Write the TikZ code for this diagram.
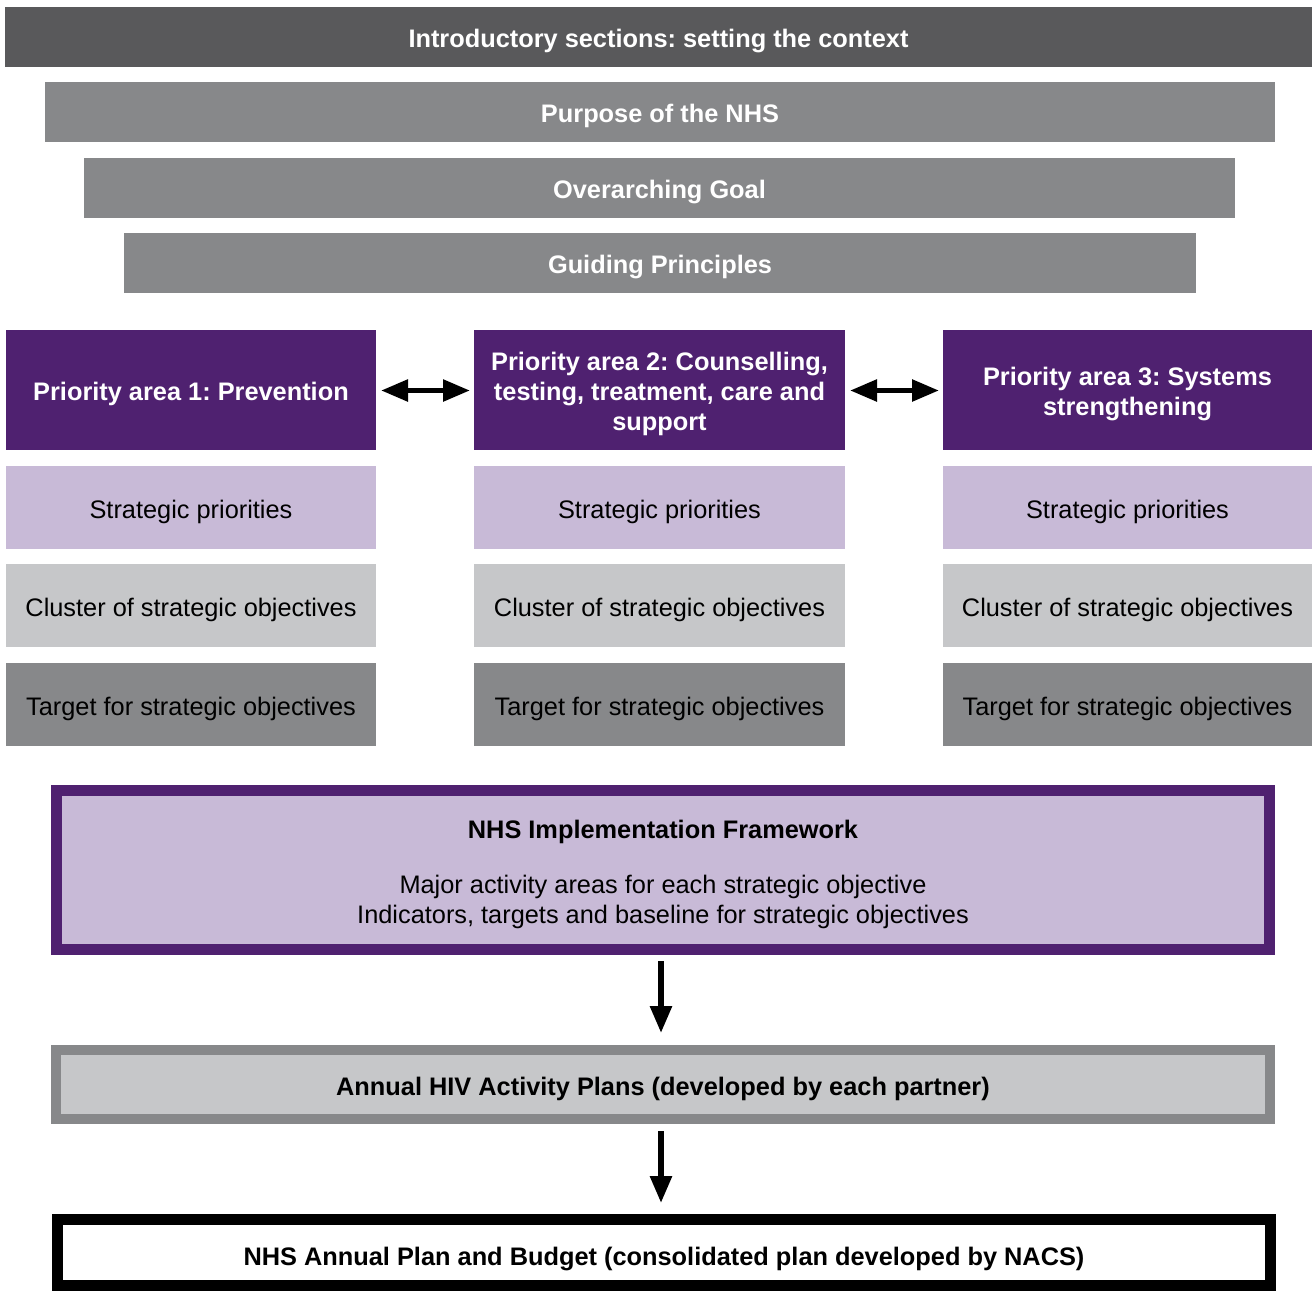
\documentclass[tikz,border=0pt]{standalone}
\usepackage{fontspec}
\setmainfont{Liberation Sans}
\usetikzlibrary{arrows.meta}
\definecolor{dgray}{HTML}{59595B}
\definecolor{mgray}{HTML}{87888A}
\definecolor{lgray}{HTML}{C6C7C9}
\definecolor{npurple}{HTML}{4F2170}
\definecolor{lav}{HTML}{C8BAD7}
\newcommand{\bodyfont}{\fontsize{25.35}{30}\selectfont\frenchspacing}
\tikzset{
  base/.style={inner sep=0pt, outer sep=0pt},
  txt/.style={inner sep=0pt, align=center, yshift=-4pt, font=\bodyfont},
  wtxt/.style={txt, text=white, font=\bodyfont\bfseries},
  btxt/.style={txt, text=black},
  band/.style={base, fill=#1, minimum height=60pt},
  prio/.style={base, fill=npurple, minimum height=120pt},
  cell/.style={base, fill=#1, minimum height=83pt},
  dbl/.style={line width=5.5pt, {Triangle[length=27pt,width=21pt]}-{Triangle[length=27pt,width=21pt]}},
  down/.style={line width=5.7pt, -{Triangle[length=27pt,width=21pt]}},
}
\begin{document}
\begin{tikzpicture}[x=1pt,y=-1pt]
\useasboundingbox (0,0) rectangle (1312,1291);
\node[band=dgray, minimum width=1307pt, label={[wtxt]center:Introductory sections: setting the context}] (intro) at (658.5,37) {};
\node[band=mgray, minimum width=1230pt, label={[wtxt]center:Purpose of the NHS}] (purpose) at (660,112) {};
\node[band=mgray, minimum width=1151pt, label={[wtxt]center:Overarching Goal}] (goal) at (659.5,188) {};
\node[band=mgray, minimum width=1072pt, label={[wtxt]center:Guiding Principles}] (guide) at (660,263) {};

\node[prio, minimum width=370pt, label={[wtxt]center:Priority area 1: Prevention}] (p1) at (191,390) {};
\node[prio, minimum width=371pt, label={[wtxt]center:{Priority area 2: Counselling,\\testing, treatment, care and\\support}}] (p2) at (659.5,390) {};
\node[prio, minimum width=369pt, label={[wtxt]center:{Priority area 3: Systems\\strengthening}}] (p3) at (1127.5,390) {};

\node[cell=lav, minimum width=370pt, label={[btxt]center:Strategic priorities}] (s1) at (191,507.5) {};
\node[cell=lav, minimum width=371pt, label={[btxt]center:Strategic priorities}] (s2) at (659.5,507.5) {};
\node[cell=lav, minimum width=369pt, label={[btxt]center:Strategic priorities}] (s3) at (1127.5,507.5) {};

\node[cell=lgray, minimum width=370pt, label={[btxt]center:Cluster of strategic objectives}] (c1) at (191,605.5) {};
\node[cell=lgray, minimum width=371pt, label={[btxt]center:Cluster of strategic objectives}] (c2) at (659.5,605.5) {};
\node[cell=lgray, minimum width=369pt, label={[btxt]center:Cluster of strategic objectives}] (c3) at (1127.5,605.5) {};

\node[cell=mgray, minimum width=370pt, label={[btxt]center:Target for strategic objectives}] (t1) at (191,704.5) {};
\node[cell=mgray, minimum width=371pt, label={[btxt]center:Target for strategic objectives}] (t2) at (659.5,704.5) {};
\node[cell=mgray, minimum width=369pt, label={[btxt]center:Target for strategic objectives}] (t3) at (1127.5,704.5) {};

\draw[dbl, shorten <=5pt, shorten >=4pt] (p1.east |- 0,390.5) -- (p2.west |- 0,390.5);
\draw[dbl, shorten <=5pt, shorten >=4pt] (p2.east |- 0,390.5) -- (p3.west |- 0,390.5);

\node[base, draw=npurple, line width=10.7pt, outer sep=5.35pt, fill=lav, minimum width=1213.3pt, minimum height=159.3pt,
  label={[btxt]center:{\textbf{NHS Implementation Framework}\\[25pt]Major activity areas for each strategic objective\\Indicators, targets and baseline for strategic objectives}}] (impl) at (663,870) {};

\node[base, draw=mgray, line width=10pt, outer sep=5pt, fill=lgray, minimum width=1214pt, minimum height=69pt,
  label={[btxt]center:\textbf{Annual HIV Activity Plans (developed by each partner)}}] (annual) at (663,1084.5) {};

\node[base, draw=black, line width=11pt, outer sep=5.5pt, fill=white, minimum width=1213pt, minimum height=66pt,
  label={[btxt, yshift=-2pt]center:\textbf{NHS Annual Plan and Budget (consolidated plan developed by NACS)}}] (plan) at (664,1252.5) {};

\draw[down, shorten <=6pt, shorten >=12pt] (impl.south -| 661,0) -- (annual.north -| 661,0);
\draw[down, shorten <=7pt, shorten >=11pt] (annual.south -| 661,0) -- (plan.north -| 661,0);
\end{tikzpicture}
\end{document}
